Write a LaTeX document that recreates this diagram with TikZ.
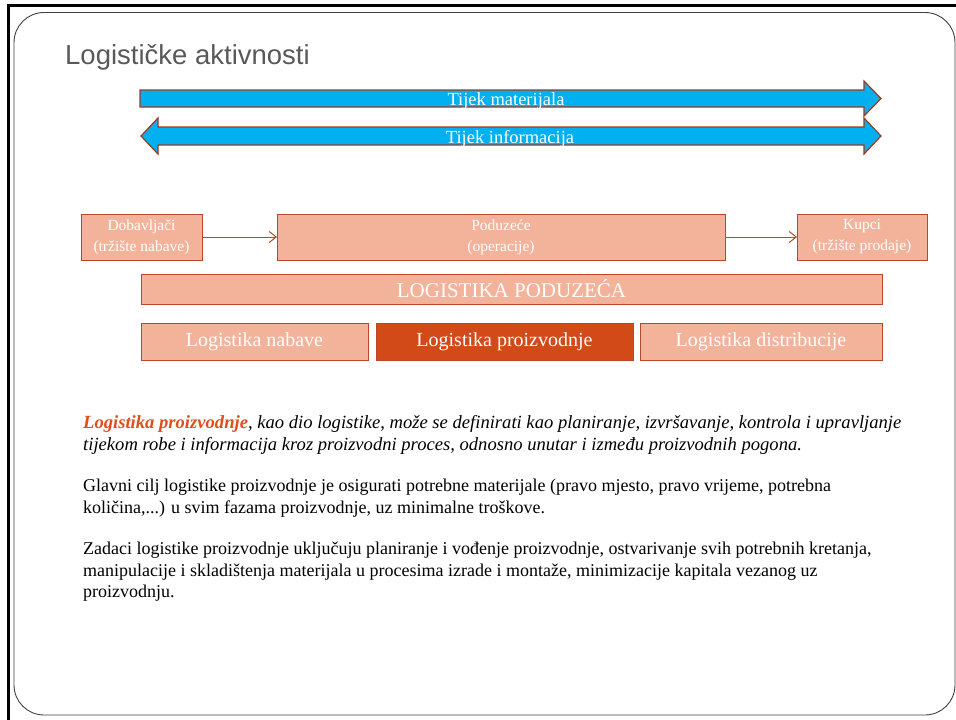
\documentclass[tikz,border=0pt]{standalone}
\usepackage{fontspec}
\setmainfont{Liberation Serif}
\newfontfamily\titlefont{Liberation Sans}
\usetikzlibrary{arrows.meta}

\definecolor{boxfill}{HTML}{F3B39B}
\definecolor{boxline}{HTML}{B9472A}
\definecolor{darkbox}{HTML}{D24A18}
\definecolor{flowblue}{HTML}{00B0F0}
\definecolor{flowline}{HTML}{9C3B1E}
\definecolor{titlegray}{HTML}{595959}
\definecolor{accent}{HTML}{E04E1B}

\begin{document}
\begin{tikzpicture}[x=1pt,y=-1pt,
    box/.style={draw=boxline,fill=boxfill,line width=1pt,text=white,align=center,
      inner sep=0pt,outer sep=0pt},
    flow/.style={draw=flowline,fill=flowblue,line width=1.2pt,line join=miter},
    flowtext/.style={text=white,font=\fontsize{18.5}{20}\selectfont},
    conn/.style={draw=boxline,line width=1pt,-{Straight Barb[length=7pt,width=11pt]}},
    bodyline/.style={anchor=base west,inner sep=0pt,font=\fontsize{18}{20}\selectfont},
    defline/.style={bodyline,font=\fontsize{18.6}{20}\selectfont\itshape}]
  \useasboundingbox (0,0) rectangle (956,720);
  % slide frame
  \draw[line width=3pt] (8.5,720) -- (8.5,5.5) -- (956,5.5);
  \draw[draw=black!75,line width=0.9pt,rounded corners=30pt] (14,12.5) rectangle (955,715);
  \node[anchor=base west,inner sep=0pt,text=titlegray,font=\titlefont\fontsize{27.5}{30}\selectfont]
    (title) at (65,64) {Logističke aktivnosti};

  % flows
  \draw[flow] (140,90) -- (864,90) -- (864,81) -- (881,98.5) -- (864,116) -- (864,107)
    -- (140,107) -- cycle;
  \node[flowtext,anchor=base] (mat) at (506,105) {Tijek materijala};
  \draw[flow] (141,136) -- (158,118) -- (158,127) -- (864,127) -- (864,118) -- (881,136)
    -- (864,154) -- (864,145) -- (158,145) -- (158,154) -- cycle;
  \node[flowtext,anchor=base] (inf) at (510,143) {Tijek informacija};

  % chain
  \begin{scope}[every node/.append style={box,minimum height=46pt,
      font=\fontsize{15.5}{21}\selectfont}]
    \node[minimum width=121pt] (dob) at (141.5,237) {Dobavljači\\(tržište nabave)};
    \node[minimum width=448pt] (pod) at (501,237) {Poduzeće\\(operacije)};
    \node[minimum width=130pt] (kup) at (862,237) {Kupci\\(tržište prodaje)};
  \end{scope}
  \draw[conn] (dob) -- (pod);
  \draw[conn] (pod) -- (kup);

  \node[box,minimum width=741pt,minimum height=30pt,font=\fontsize{21}{24}\selectfont]
    (lp) at (511.5,289) {LOGISTIKA PODUZEĆA};
  \begin{scope}[every node/.append style={box,minimum height=37pt,
      font=\fontsize{20}{24}\selectfont}]
    \node[minimum width=227pt] (nab) at (254.5,341.5) {Logistika nabave};
    \node[minimum width=257pt,fill=darkbox] (pro) at (504.5,341.5) {Logistika proizvodnje};
    \node[minimum width=242pt] (dis) at (761,341.5) {Logistika distribucije};
  \end{scope}

  % text
  \node[defline] (t1) at (83,428) {\textcolor{accent}{\bfseries Logistika proizvodnje}, kao dio logistike, može se definirati kao planiranje, izvršavanje, kontrola i upravljanje};
  \node[defline] (t2) at (83,450) {tijekom robe i informacija kroz proizvodni proces, odnosno unutar i između proizvodnih pogona.};
  \node[bodyline] (t3) at (83,491) {Glavni cilj logistike proizvodnje je osigurati potrebne materijale (pravo mjesto, pravo vrijeme, potrebna};
  \node[bodyline] (t4) at (83,513) {količina,...) u svim fazama proizvodnje, uz minimalne troškove.};
  \node[bodyline] (t5) at (83,554) {Zadaci logistike proizvodnje uključuju planiranje i vođenje proizvodnje, ostvarivanje svih potrebnih kretanja,};
  \node[bodyline] (t6) at (83,576) {manipulacije i skladištenja materijala u procesima izrade i montaže, minimizacije kapitala vezanog uz};
  \node[bodyline] (t7) at (83,597) {proizvodnju.};
\end{tikzpicture}
\end{document}
